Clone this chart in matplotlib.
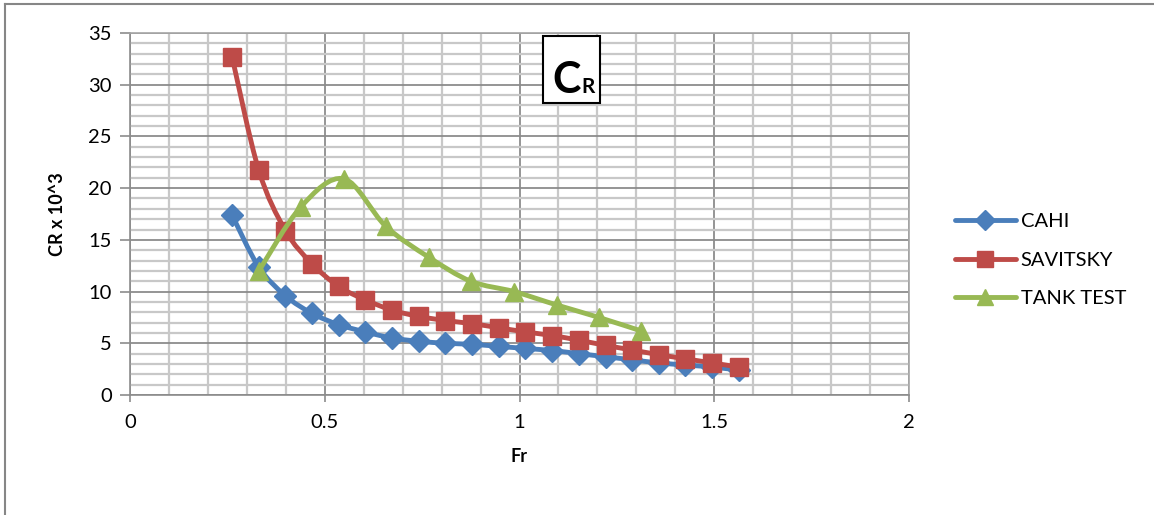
import matplotlib.pyplot as plt
from matplotlib.path import Path
from matplotlib.patches import PathPatch, Rectangle
from matplotlib.lines import Line2D
from matplotlib.ticker import MultipleLocator

# data
fr = [0.262, 0.330, 0.399, 0.467, 0.536, 0.604, 0.673, 0.741, 0.810, 0.878,
      0.947, 1.015, 1.084, 1.152, 1.221, 1.289, 1.358, 1.426, 1.495, 1.563]
cahi = [17.4, 12.4, 9.6, 7.9, 6.8, 6.1, 5.5, 5.2, 5.0, 4.9,
        4.7, 4.5, 4.3, 4.0, 3.7, 3.4, 3.1, 2.9, 2.7, 2.4]
savitsky = [32.7, 21.8, 15.9, 12.7, 10.5, 9.2, 8.2, 7.6, 7.2, 6.9,
            6.5, 6.1, 5.75, 5.3, 4.8, 4.35, 3.9, 3.5, 3.1, 2.7]
fr_tank = [0.331, 0.439, 0.549, 0.657, 0.768, 0.875, 0.986, 1.096, 1.204, 1.312]
tank = [12.0, 18.2, 20.9, 16.3, 13.3, 11.0, 10.0, 8.7, 7.5, 6.2]

series_names = ["CAHI", "SAVITSKY", "TANK TEST"]
colors = ["#4A7EBB", "#BE4B48", "#98B954"]
markers = ["D", "s", "^"]
msizes = [11, 13, 13]

plt.rcParams['font.family'] = ['Lato', 'DejaVu Sans']


def smooth_path(xs, ys):
    # Excel-like smoothed line: cubic bezier with catmull-rom control points
    pts = list(zip(xs, ys))
    verts = [pts[0]]
    codes = [Path.MOVETO]
    n = len(pts)
    for i in range(n - 1):
        p0 = pts[i - 1] if i > 0 else pts[i]
        p1 = pts[i]
        p2 = pts[i + 1]
        p3 = pts[i + 2] if i + 2 < n else pts[i + 1]
        c1 = (p1[0] + (p2[0] - p0[0]) / 6, p1[1] + (p2[1] - p0[1]) / 6)
        c2 = (p2[0] - (p3[0] - p1[0]) / 6, p2[1] - (p3[1] - p1[1]) / 6)
        verts += [c1, c2, p2]
        codes += [Path.CURVE4] * 3
    return Path(verts, codes)


fig = plt.figure(figsize=(11.54, 5.15), dpi=100)
ax = fig.add_axes([130 / 1154, 1 - 395 / 515, 779 / 1154, 362 / 515])

ax.set_xlim(0, 2)
ax.set_ylim(0, 35)
ax.xaxis.set_major_locator(MultipleLocator(0.5))
ax.xaxis.set_minor_locator(MultipleLocator(0.1))
ax.yaxis.set_major_locator(MultipleLocator(5))
ax.yaxis.set_minor_locator(MultipleLocator(1))
ax.set_xticks([0, 0.5, 1, 1.5, 2])
ax.set_xticklabels(["0", "0.5", "1", "1.5", "2"])

ax.grid(which='minor', color='#C8C8C8', linewidth=1.6, zorder=0)
ax.grid(which='major', color='#8C8C8C', linewidth=1.3, zorder=0)
ax.set_axisbelow(True)

for s in ax.spines.values():
    s.set_color('#A6A6A6')
    s.set_linewidth(1.2)
ax.spines['left'].set_color('#8C8C8C')
ax.spines['bottom'].set_color('#8C8C8C')

ax.tick_params(which='major', direction='out', length=7, width=1.2,
               color='#8C8C8C', labelsize=14.5, pad=6)
ax.tick_params(which='minor', length=0)
ax.tick_params(axis='x', length=5, pad=9)

datasets = [(fr, cahi), (fr, savitsky), (fr_tank, tank)]
handles = []
for (xs, ys), name, c, m, ms in zip(datasets, series_names, colors, markers, msizes):
    patch = PathPatch(smooth_path(xs, ys), fill=False, edgecolor=c,
                      linewidth=3.5, capstyle='round', joinstyle='round', zorder=3)
    ax.add_patch(patch)
    ax.plot(xs, ys, linestyle='none', marker=m, markersize=ms, color=c,
            markeredgecolor=c, zorder=3)
    handles.append(Line2D([], [], color=c, linewidth=3.5, marker=m,
                          markersize=ms - 1, solid_capstyle='round'))

ax.set_xlabel("Fr", fontsize=13, fontweight='bold', labelpad=12)
ax.set_ylabel("CR x 10^3", fontsize=13, fontweight='bold', labelpad=16)

# boxed title inside the plot
ax.add_patch(Rectangle((0.530, 0.807), 0.073, 0.185, transform=ax.transAxes,
                       facecolor='white', edgecolor='black', linewidth=1.5,
                       zorder=5))
ax.text(0.578, 0.835, "C", transform=ax.transAxes, fontsize=31,
        fontweight='bold', ha='right', va='baseline', zorder=6)
ax.text(0.579, 0.835, "R", transform=ax.transAxes, fontsize=15,
        fontweight='bold', ha='left', va='baseline', zorder=6)

fig.legend(handles, series_names, loc='center left',
           bbox_to_anchor=(937 / 1154, 1 - 260 / 515), frameon=False,
           fontsize=14.5, handlelength=3.0, labelspacing=1.05, handletextpad=0.25)

# chart area border (top and left visible)
fig.add_artist(Line2D([5 / 1154, 1], [1 - 4 / 515, 1 - 4 / 515],
                      transform=fig.transFigure, color='#868686', linewidth=1.5))
fig.add_artist(Line2D([5 / 1154, 5 / 1154], [0, 1 - 4 / 515],
                      transform=fig.transFigure, color='#868686', linewidth=1.5))

fig.savefig("out.png", dpi=100)
